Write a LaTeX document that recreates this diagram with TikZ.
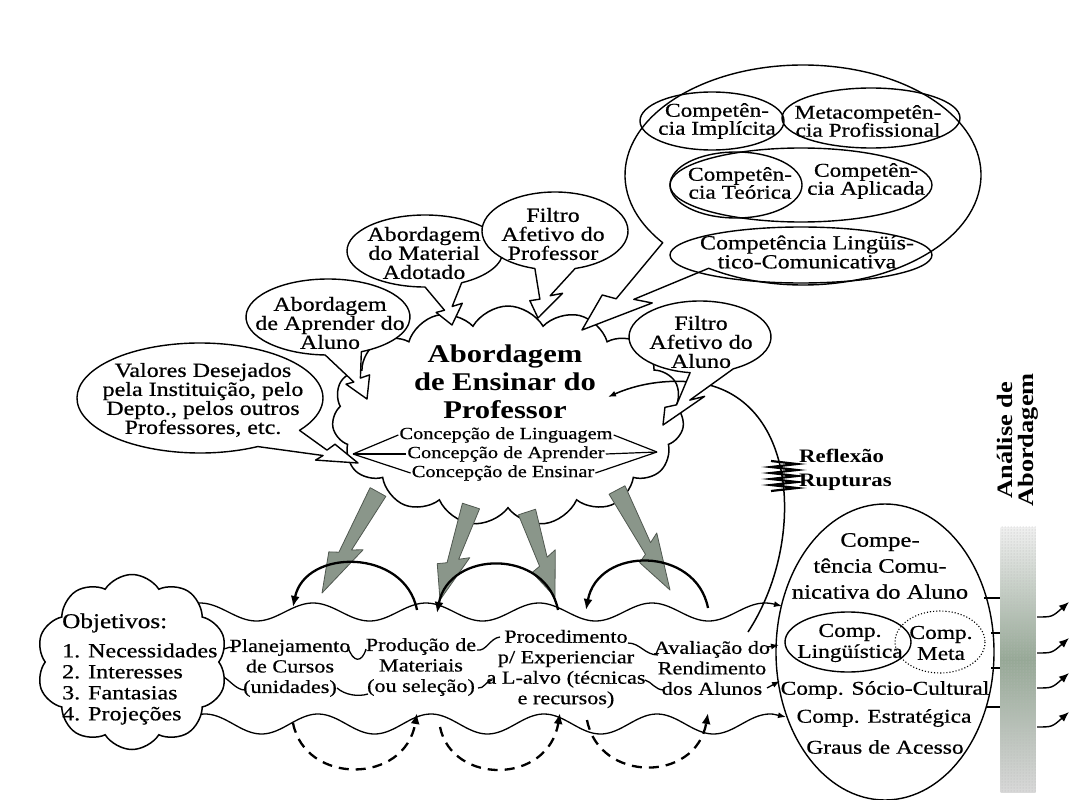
\documentclass[tikz,border=0pt]{standalone}
\usepackage{fontspec}
\setmainfont{Liberation Serif}[FakeStretch=1.2, UprightFeatures={FakeBold=0.6}]
\usetikzlibrary{calc,shapes.symbols,arrows.meta,patterns}
\newcommand\fs[2]{\fontsize{#1}{#2}\selectfont}
\definecolor{gfill}{RGB}{138,150,138}
\definecolor{gedge}{RGB}{80,88,80}
\definecolor{barmid}{RGB}{150,168,150}

% speech bubble with lightning tail: name, centre, rx, ry, angle1, angle2, tip
\newcommand\callout[7]{%
  \path (#2) ++(#5:#3 and #4) coordinate (#1b1);
  \path (#2) ++(#6:#3 and #4) coordinate (#1b2);
  \coordinate (#1t) at (#7);
  \coordinate (#1m1) at ($(#1b2)!0.75!(#1b1)$);
  \coordinate (#1m2) at ($(#1b2)!1.3!(#1b1)$);
  \coordinate (#1m3) at ($(#1b2)!-0.5!(#1b1)$);
  \coordinate (#1m4) at ($(#1b2)!0.2!(#1b1)$);
  \draw[bub] (#1b2) arc[start angle=#6, end angle={#5+360}, x radius=#3, y radius=#4]
    -- ($(#1m1)!0.55!(#1t)$) -- ($(#1m2)!0.5!(#1t)$) -- (#1t)
    -- ($(#1m3)!0.65!(#1t)$) -- ($(#1m4)!0.62!(#1t)$) -- cycle;
}
% grey lightning arrow: prefix, start, tip
\newcommand\grayarrow[3]{%
  \coordinate (#1s) at (#2); \coordinate (#1t) at (#3);
  \coordinate (#1a) at ($(#1s)!0.55!(#1t)$);
  \coordinate (#1b) at ($(#1s)!0.5!(#1t)$);
  \coordinate (#1c) at ($(#1s)!0.66!(#1t)$);
  \coordinate (#1d) at ($(#1s)!0.62!(#1t)$);
  \filldraw[gar] ($(#1s)!9pt!90:(#1t)$) -- ($(#1a)!5pt!90:(#1t)$) -- ($(#1b)!15pt!90:(#1t)$) -- (#1t)
    -- ($(#1c)!-14pt!90:(#1t)$) -- ($(#1d)!-5pt!90:(#1t)$) -- ($(#1s)!-9pt!90:(#1t)$) -- cycle;
}

\tikzset{
  ln/.style={line width=1.3pt},
  ell/.style={line width=1.4pt},
  wav/.style={line width=1.3pt},
  bub/.style={draw, fill=white, line width=1.4pt, line join=round},
  ah/.style={-{Latex[length=8pt,width=6pt]}},
  bigarc/.style={line width=2.3pt, -{Latex[length=11pt,width=9pt]}},
  dasharc/.style={line width=2.3pt, dash pattern=on 10pt off 7pt, -{Latex[length=11pt,width=9pt]}},
  gar/.style={fill=gfill, draw=gedge, line width=0.8pt, line join=round},
  tx/.style={inner sep=1pt, align=center, font=\fs{20}{19}},
  ctext/.style={inner sep=1pt, align=center, font=\fs{19.5}{18}},
  stx/.style={inner sep=1pt, align=center, font=\fs{18.5}{20.5}},
  ctx/.style={inner sep=1pt, font=\fs{17}{19}},
  rtx/.style={inner sep=0pt, align=center, font=\fs{19.5}{21}},
  cloudsh/.style={cloud, draw, fill=white, line width=1.5pt, cloud ignores aspect},
}

\begin{document}
\begin{tikzpicture}[x=1pt,y=-1pt]
\useasboundingbox (0,0) rectangle (1072,800);
\fill[white] (0,0) rectangle (1072,800);

% ---------------- band of waves ----------------
\draw[wav, ah] plot[domain=190:773, samples=200] (\x,{612-9*cos((\x-200)*3.1858)}) -- (782,606);
\draw[wav, ah] plot[domain=190:773, samples=200] (\x,{724-10*cos((\x-205)*3.1858)}) -- (786,717);
\draw[wav] (219,648) .. controls (224,652) and (228,645) .. (233,648);
\draw[wav] (222,676) .. controls (230,680) and (236,690) .. (245,690);
\draw[wav] (348,647) .. controls (353,663) and (362,663) .. (366,649);
\draw[wav] (337,688) .. controls (345,695) and (358,697) .. (368,694);
\draw[wav] (477,650) .. controls (486,652) and (490,638) .. (500,637);
\draw[wav] (478,688) .. controls (484,689) and (486,681) .. (492,680);
\draw[wav] (628,643) .. controls (640,643) and (645,655) .. (658,655);
\draw[wav] (645,680) .. controls (652,682) and (655,690) .. (664,690);
\draw[wav, ah] (768,647) -- (779,645);
\draw[wav, ah] (767,688) -- (780,681);

% ---------------- Objetivos cloud ----------------
\node[cloudsh, cloud puffs=10, cloud puff arc=115, minimum width=191, minimum height=175] (objc) at (132,662) {};
\node[anchor=west, inner sep=0pt, font=\fs{21}{21}] (objt) at (62,623) {Objetivos:};
\node[anchor=west, inner sep=0pt, align=left, font=\fs{20}{21}] (objl) at (62,684) {1. Necessidades\\2. Interesses\\3. Fantasias\\4. Projeções};

% ---------------- central cloud ----------------
\node[cloudsh, cloud puffs=15, cloud puff arc=120, minimum width=352, minimum height=220] (mc) at (508,416) {};

% feedback curve
\coordinate (fbs) at (748,632);
\coordinate (fbe) at (608,397);
\draw[line width=1.5pt, ah] (fbs) .. controls (805,545) and (800,400) .. (700,383) .. controls (665,378) and (635,385) .. (fbe);
\draw[line width=2.2pt, line join=miter] (771,461) -- (797,464) -- (771,467) -- (797,470) -- (771,473) -- (797,476) -- (771,479) -- (797,482) -- (771,485) -- (797,488) -- (771,491);
\node[anchor=west, align=left, inner sep=0pt, font=\bfseries\fs{19}{24}] (refl) at (799,470) {Reflexão\\Rupturas};

% Concepcao lines
\node[ctx] (c1) at (506,435) {Concepção de Linguagem};
\node[ctx] (c2) at (506,454) {Concepção de Aprender};
\node[ctx] (c3) at (503,473) {Concepção de Ensinar};
\coordinate (lp) at (353,454);
\coordinate (rp) at (657,452);
\foreach \c in {c1,c2,c3}{\draw[line width=1.2pt] (\c.west) -- (lp); \draw[line width=1.2pt] (\c.east) -- (rp);}
\node[align=center, inner sep=0pt, font=\bfseries\fs{25.5}{28}] (title) at (505,382) {Abordagem\\de Ensinar do\\Professor};

% ---------------- callouts ----------------
\callout{vd}{200,398}{123}{55}{36}{62}{358,463}
\callout{aa}{328,317}{82}{38}{66}{92}{367,399}
\callout{am}{425,251}{78}{36}{62}{90}{452,325}
\callout{fp}{555,231}{73}{39}{74}{106}{538,318}
\callout{fa}{700,337}{71}{36}{62}{98}{663,425}
\callout{cb}{803,175}{178}{110}{122}{142}{582,330}
\draw[ell] (712,121) ellipse [x radius=72, y radius=29];
\draw[ell] (871,118) ellipse [x radius=89, y radius=30];
\draw[ell] (801,185) ellipse [x radius=131, y radius=37];
\draw[ell] (736,185) ellipse [x radius=66, y radius=33];
\draw[ell] (801,255) ellipse [x radius=131, y radius=28];

\node[tx] (vdt) at (203,400) {Valores Desejados\\pela Instituição, pelo\\Depto., pelos outros\\Professores, etc.};
\node[tx] (aat) at (330,323) {Abordagem\\de Aprender do\\Aluno};
\node[tx] (amt) at (424,253) {Abordagem\\do Material\\Adotado};
\node[tx] (fpt) at (553,234) {Filtro\\Afetivo do\\Professor};
\node[tx] (fat) at (701,342) {Filtro\\Afetivo do\\Aluno};
\node[ctext] (cit) at (717,121) {Competên-\\cia Implícita};
\node[ctext] (mpt) at (868,121) {Metacompetên-\\cia Profissional};
\node[ctext] (ctt) at (740,183) {Competên-\\cia Teórica};
\node[ctext] (cat) at (866,181) {Competên-\\cia Aplicada};
\node[tx] (clt) at (807,252) {Competência Lingüís-\\tico-Comunicativa};

% ---------------- grey arrows ----------------
\grayarrow{ga}{378,492}{322,593}
\grayarrow{gb}{471,506}{440,600}
\grayarrow{gc}{527,512}{555,597}
\grayarrow{gd}{617,490}{670,590}

% ---------------- arcs ----------------
\coordinate (a1s) at (417,610); \coordinate (a1e) at (293,607);
\coordinate (a2s) at (558,610); \coordinate (a2e) at (437,613);
\coordinate (a3s) at (708,608); \coordinate (a3e) at (586,610);
\draw[bigarc] (a1s) .. controls (405,548) and (305,548) .. (a1e);
\draw[bigarc] (a2s) .. controls (546,548) and (449,550) .. (a2e);
\draw[bigarc] (a3s) .. controls (696,546) and (598,546) .. (a3e);
\coordinate (d1s) at (293,723); \coordinate (d1e) at (417,713);
\coordinate (d2s) at (440,727); \coordinate (d2e) at (560,713);
\coordinate (d3s) at (587,720); \coordinate (d3e) at (708,713);
\draw[dasharc] (d1s) .. controls (305,785) and (405,785) .. (d1e);
\draw[dasharc] (d2s) .. controls (452,785) and (548,785) .. (d2e);
\draw[dasharc] (d3s) .. controls (599,783) and (696,783) .. (d3e);

% ---------------- steps ----------------
\node[stx] (plan) at (290,668) {Planejamento\\de Cursos\\(unidades)};
\node[stx] (prod) at (421,667) {Produção de\\Materiais\\(ou seleção)};
\node[stx] (proc) at (566,669) {Procedimento\\p/ Experienciar\\a L-alvo (técnicas\\e recursos)};
\node[stx] (aval) at (712,668) {Avaliação do\\Rendimento\\dos Alunos};

% ---------------- right ellipse ----------------
\draw[ell] (885,652) ellipse [x radius=109, y radius=148];
\node[inner sep=0pt, align=center, font=\fs{20.5}{26}] (rct) at (880,566) {Compe-\\tência Comu-\\nicativa do Aluno};
\draw[ell] (848,642) ellipse [x radius=63, y radius=30];
\draw[line width=1.1pt, dotted] (940,642) ellipse [x radius=45, y radius=31];
\node[rtx] (cling) at (850,643) {Comp.\\Lingüística};
\node[rtx] (cmeta) at (941,643) {Comp.\\Meta};
\node[rtx] (csoc) at (885,690) {Comp. Sócio-Cultural};
\node[rtx] (cest) at (884,718) {Comp. Estratégica};
\node[rtx] (cgra) at (885,747) {Graus de Acesso};

% ---------------- analysis bar ----------------
\node[rectangle, inner sep=0pt, minimum width=35, minimum height=265, top color=gray!12, bottom color=gray!30, middle color=barmid] (bar) at (1018,659.5) {};
\fill[pattern=dots, pattern color=gray!55] (bar.south west) rectangle (bar.north east);
\draw[line width=1.2pt] (984,598) -- (bar.west |- 0,598);
\draw[line width=1.2pt] (991,633) -- (bar.west |- 0,633);
\draw[line width=1.2pt] (991,668) -- (bar.west |- 0,668);
\draw[line width=1.2pt] (986,707) -- (bar.west |- 0,707);
\foreach \yy in {617,653,688,727}{
  \coordinate (ra\yy) at (1037,\yy);
  \coordinate (rb\yy) at (1069,\yy-15);
  \draw[line width=1.4pt, -{Latex[length=10pt,width=8pt]}] (ra\yy) .. controls (1052,\yy) .. (rb\yy);
}
\node[rotate=90, align=center, inner sep=0pt, font=\bfseries\fs{22}{21}] (ana) at (1018,440) {Análise de\\Abordagem};
\end{tikzpicture}
\end{document}
